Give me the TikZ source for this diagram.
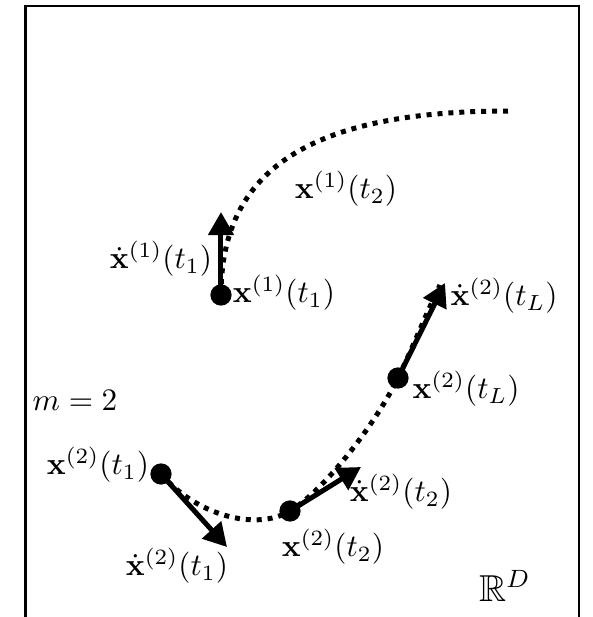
\documentclass[tikz,border=0pt]{standalone}
\usepackage{amsmath,amssymb}
\usetikzlibrary{arrows.meta}
\begin{document}
\begin{tikzpicture}[x=0.32pt,y=-0.32pt,
  dotpt/.style={circle,fill=black,inner sep=0pt,minimum size=6.8pt},
  vel/.style={line width=1.6pt,-{Triangle[length=7.4pt,width=8pt]}},
  traj/.style={line width=1.6pt,dash pattern=on 1.6pt off 1.9pt},
  lab/.style={inner sep=0pt}]
\useasboundingbox (0,0) rectangle (592,617);
\clip (0,0) rectangle (592,617);
\draw[line width=0.85pt] (25.5,6) rectangle (579,660);

% points
\coordinate (p1) at (221,295);
\coordinate (q1) at (161,474);
\coordinate (q2) at (290,511);
\coordinate (qL) at (398,378);
% free ends
\coordinate (e1) at (508,111);
\coordinate (eL) at (440,285);
\coordinate (v1) at (221,212);
\coordinate (w1) at (227,547);
\coordinate (w2) at (361,467);
\coordinate (wL) at (445,283);

% trajectories
\draw[traj] (p1) .. controls (221,170) and (310,111) .. (e1);
\draw[traj] (q1) .. controls (195,514) and (255,532) .. (q2)
            .. controls (325,490) and (376,423) .. (qL)
            .. controls (413,347) and (426,314) .. (eL);

% velocities
\draw[vel] (p1) -- (v1);
\draw[vel] (q1) -- (w1);
\draw[vel] (q2) -- (w2);
\draw[vel] (qL) -- (wL);

% dots
\node[dotpt] (P1) at (p1) {};
\node[dotpt] (Q1) at (q1) {};
\node[dotpt] (Q2) at (q2) {};
\node[dotpt] (QL) at (qL) {};

% labels
\node[lab] (l1) at (284,293) {$\mathbf{x}^{(1)}(t_1)$};
\node[lab] (l2) at (161,259) {$\dot{\mathbf{x}}^{(1)}(t_1)$};
\node[lab] (l3) at (346,189) {$\mathbf{x}^{(1)}(t_2)$};
\node[lab] (l4) at (504,296) {$\dot{\mathbf{x}}^{(2)}(t_L)$};
\node[lab] (l5) at (466,389) {$\mathbf{x}^{(2)}(t_L)$};
\node[lab] (l6) at (98,465) {$\mathbf{x}^{(2)}(t_1)$};
\node[lab] (l7) at (177,566) {$\dot{\mathbf{x}}^{(2)}(t_1)$};
\node[lab] (l8) at (333,547) {$\mathbf{x}^{(2)}(t_2)$};
\node[lab] (l9) at (401,492) {$\dot{\mathbf{x}}^{(2)}(t_2)$};
\node[lab] (m) at (75,400) {$m=2$};
\node[lab] (rd) at (505,586) {\fontsize{12}{14}\selectfont$\mathbb{R}^D$};
\end{tikzpicture}
\end{document}
